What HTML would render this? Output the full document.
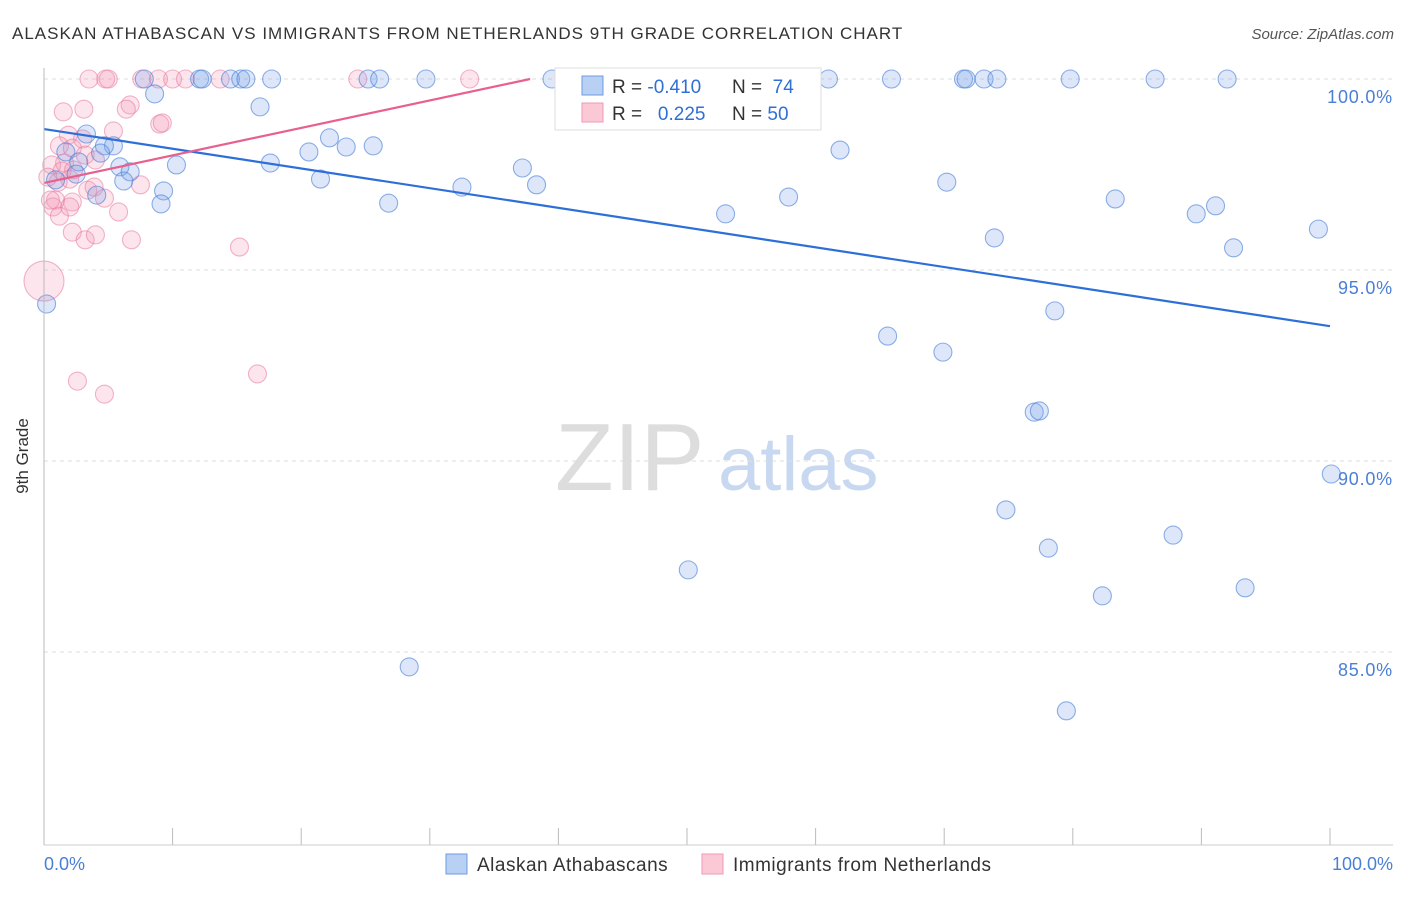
<!DOCTYPE html>
<html><head><meta charset="utf-8"><style>
body{margin:0;background:#fff;font-family:"Liberation Sans",sans-serif;}
svg text{font-family:"Liberation Sans",sans-serif;}
</style></head><body>
<svg width="1406" height="892">
<text x="12" y="39" font-size="17" letter-spacing="1" fill="#333">ALASKAN ATHABASCAN VS IMMIGRANTS FROM NETHERLANDS 9TH GRADE CORRELATION CHART</text>
<text x="1394" y="39" font-size="15" fill="#555" text-anchor="end" font-style="italic">Source: ZipAtlas.com</text>
<text x="555" y="490" font-size="96" fill="#ddd" font-family="Liberation Serif">ZIP</text>
<text x="718" y="490" font-size="76" fill="#c8d8f0">atlas</text>
<g id="grid"></g>
<g id="pts"></g>
<g id="lines"></g>
<line x1="44" y1="68" x2="44" y2="845" stroke="#bbb"/>
<line x1="44" y1="845" x2="1393" y2="845" stroke="#ccc"/>
<text x="28" y="456" font-size="17" fill="#333" text-anchor="middle" transform="rotate(-90 28 456)">9th Grade</text>
<text x="44" y="870" font-size="18" fill="#4a7fd6">0.0%</text>
<text x="1393" y="870" font-size="18" fill="#4a7fd6" text-anchor="end">100.0%</text>
<g>
<rect x="555" y="68" width="266" height="62" fill="#fff" stroke="#ddd"/>
<rect x="582" y="76" width="21" height="19" fill="#b8d0f4" stroke="#6d9be0"/>
<rect x="582" y="103" width="21" height="19" fill="#fbc8d6" stroke="#ef9ab4"/>
<text x="612" y="93" font-size="19" fill="#333">R = <tspan fill="#2f6fd6">-0.410</tspan></text>
<text x="732" y="93" font-size="19" fill="#333">N = <tspan fill="#2f6fd6">&#160;74</tspan></text>
<text x="612" y="120" font-size="19" fill="#333">R = <tspan fill="#2f6fd6">&#160;&#160;0.225</tspan></text>
<text x="732" y="120" font-size="19" fill="#333">N = <tspan fill="#2f6fd6">50</tspan></text>
</g>
<g>
<rect x="446" y="854" width="21" height="20" fill="#b8d0f4" stroke="#6d9be0"/>
<text x="477" y="871" font-size="19" letter-spacing="0.5" fill="#333">Alaskan Athabascans</text></g>
<g>
<rect x="702" y="854" width="21" height="20" fill="#fbc8d6" stroke="#ef9ab4"/>
<text x="733" y="871" font-size="19" letter-spacing="0.5" fill="#333">Immigrants from Netherlands</text></g>
</svg>
<script>
const yTicks=[100,95,90,85];
const yTickLabels=["100.0%","95.0%","90.0%","85.0%"];
const xTicks=[0,10,20,30,40,50,60,70,80,90,100];
const blueX=[7.8,12.1,12.3,14.5,15.3,15.7,17.7,25.2,26.1,29.7,39.5,41.2,61.0,65.9,71.5,71.7,73.1,74.1,79.8,86.4,92.0,8.6,16.8,3.3,5.4,4.7,4.4,1.7,2.7,5.9,10.3,6.7,6.2,2.5,0.9,20.6,22.2,23.5,25.6,17.6,21.5,9.3,9.1,4.1,26.8,32.5,37.2,38.3,53.0,57.9,61.9,70.2,73.9,83.3,89.6,91.1,92.5,99.1,0.2,65.6,69.9,78.6,77.0,77.4,100.1,74.8,78.1,87.8,50.1,82.3,93.4,28.4,79.5];
const blueY=[100,100,100,100,100,100,100,100,100,100,100,100,100,100,100,100,100,100,100,100,100,99.61,99.27,98.56,98.25,98.25,98.06,98.09,97.83,97.70,97.75,97.57,97.33,97.51,97.36,98.09,98.46,98.22,98.25,97.80,97.38,97.07,96.73,96.96,96.75,97.17,97.67,97.23,96.47,96.91,98.14,97.30,95.84,96.86,96.47,96.68,95.58,96.07,94.11,93.27,92.85,93.93,91.28,91.31,89.66,88.72,87.72,88.06,87.15,86.47,86.68,84.61,83.46];
const pinkX=[3.5,4.8,5.0,7.6,8.9,10.0,11.0,13.7,24.4,33.1,1.5,3.1,6.7,6.4,9.0,9.2,5.4,1.9,3.0,1.2,2.2,3.2,4.0,1.6,0.6,1.4,2.0,1.1,0.3,0.9,2.2,3.4,3.9,7.5,4.7,5.8,0.7,2.0,2.2,3.2,4.0,6.8,15.2,0,2.6,4.7,16.6,1.2,0.5,2.3];
const pinkY=[100,100,100,100,100,100,100,100,100,100,99.14,99.21,99.32,99.21,98.82,98.85,98.64,98.53,98.43,98.25,98.19,98.01,97.88,97.80,97.75,97.59,97.38,97.30,97.43,96.83,96.78,97.09,97.17,97.23,96.88,96.52,96.65,96.65,95.99,95.79,95.92,95.79,95.60,94.71,92.09,91.75,92.28,96.41,96.83,97.62];
const blueTrendX=[0,100], blueTrendY=[98.69,93.53];
const pinkTrendX=[0,37.8], pinkTrendY=[97.28,100];
const X=v=>44+v*12.86, Y=v=>79+(100-v)*38.2;
const NS="http://www.w3.org/2000/svg";
function mk(tag,attrs,parent){const e=document.createElementNS(NS,tag);for(const k in attrs)e.setAttribute(k,attrs[k]);document.getElementById(parent).appendChild(e);return e;}
yTicks.forEach((t,i)=>{
 const l=mk('line',{x1:44,x2:1393,y1:Y(t),y2:Y(t),stroke:'#ddd','stroke-dasharray':'4,4'},'grid');
 
 
 const tx=mk('text',{x:1393,y:Y(t)+24,'font-size':18,'letter-spacing':0.8,fill:'#4a7fd6','text-anchor':'end'},'grid');
 tx.textContent=yTickLabels[i];
 
 
});
xTicks.forEach(t=>{
 const l=mk('line',{x1:X(t),x2:X(t),y1:828,y2:845,stroke:'#bbb'},'grid');
 
 
});
pinkX.forEach((x,i)=>{
 const c=mk('circle',{cx:X(x),cy:Y(pinkY[i]),r:(x===0?20:9),fill:'rgba(244,150,180,0.25)',stroke:'rgba(232,120,160,0.55)','stroke-width':1.1},'pts');
 
 
});
blueX.forEach((x,i)=>{
 const c=mk('circle',{cx:X(x),cy:Y(blueY[i]),r:9,fill:'rgba(120,160,230,0.25)',stroke:'rgba(70,125,215,0.6)','stroke-width':1.1},'pts');
 
 
});
const bl=mk('line',{x1:X(blueTrendX[0]),y1:Y(blueTrendY[0]),x2:X(blueTrendX[1]),y2:Y(blueTrendY[1]),stroke:'#2d6fd8','stroke-width':2.2},'lines');


const pl=mk('line',{x1:X(pinkTrendX[0]),y1:Y(pinkTrendY[0]),x2:X(pinkTrendX[1]),y2:Y(pinkTrendY[1]),stroke:'#e8608e','stroke-width':2.2},'lines');


</script>
</body></html>
